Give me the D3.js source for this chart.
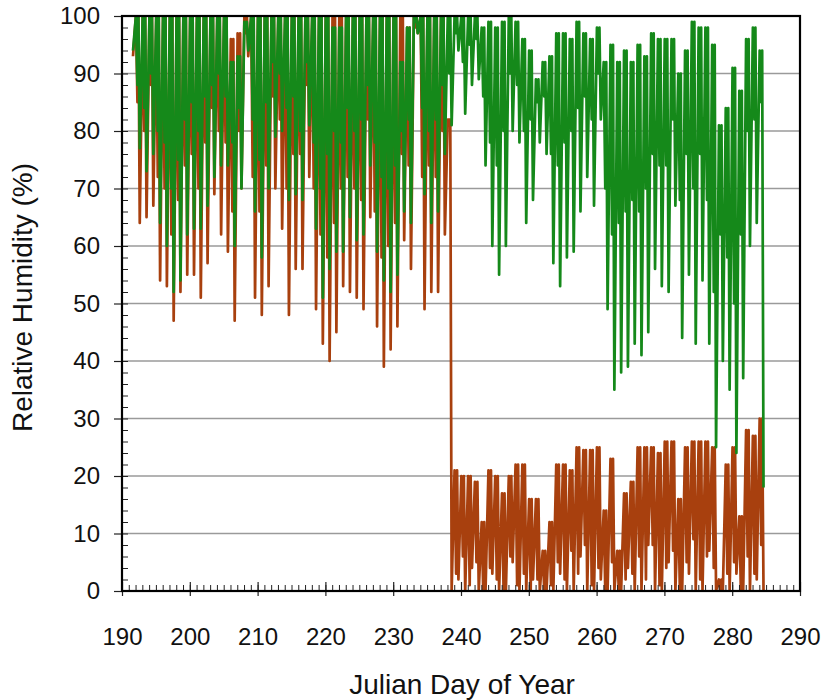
<!DOCTYPE html>
<html>
<head>
<meta charset="utf-8">
<script src="https://cdn.jsdelivr.net/npm/d3@7"></script>
<style>
  body { margin: 0; background: #fff; }
  text { font-family: "Liberation Sans", Arial, sans-serif; fill: #111; }
</style>
</head>
<body>
<div id="chart"></div>
<script>
// julian days, one entry per day: night high, a morning dip, high again, afternoon low
const days = d3.range(191, 285);

const greenHigh = [null,
  100, 100, 100, 100, 100, 100, 100, 100, 100, 100, 100, 100, 100, 100,
  92, 93, 99, 100, 100, 100, 100, 100, 100, 100, 100, 100, 100, 100, 100,
  98, 98, 100, 100, 100, 100, 100, 100, 100, 100, 92, 98, 100, 100, 100,
  100, 100, 100, 100, 100, 100, 100, 98, 99, 98, 99, 100, 99, 96, 94,
  89, 92, 93, 97, 97, 96, 99, 97, 96, 98, 92, 95, 92, 94, 92,
  95, 93, 97, 96, 96, 96, 90, 94, 99, 98, 98, 95, 81, 84, 91,
  87, 96, 98, 94];

const greenDip = [null,
  88, 84, 90, 80, 78, 70, 75, 82, 85, 80, 86, 88, 90, 86,
  78, 84, 98, 82, 75, 85, 92, 90, 84, 86, 80, 92, 78, 70, 76,
  80, 78, 84, 80, 82, 88, 78, 72, 70, 74, 80, 82, 99, 84, 80,
  82, 88, 90, 97, 92, 95, 96, 86, 78, 74, 80, 90, 88, 80, 82,
  85, 86, 76, 74, 78, 80, 84, 86, 82, 90, 70, 62, 64, 66, 68,
  66, 70, 76, 74, 74, 82, 68, 76, 70, 76, 68, 52, 62, 58, 50,
  62, 80, 82, 85];

const greenLow = [94,
  77, 73, 76, 64, 60, 52, 54, 62, 63, 63, 67, 72, 74, 74,
  60, 70, 94, 66, 58, 70, 79, 80, 68, 69, 68, 81, 63, 51, 56,
  59, 59, 65, 61, 62, 74, 59, 54, 52, 55, 66, 64, 97, 69, 64,
  66, 76, 81, 94, 83, 88, 89, 74, 60, 55, 60, 80, 78, 64, 68,
  78, 76, 57, 53, 58, 59, 66, 72, 67, 82, 49, 35, 38, 39, 43,
  41, 45, 56, 53, 52, 67, 44, 55, 43, 54, 43, 25, 40, 35, 24,
  37, 60, 64, 18];

const brownHigh = [null,
  100, 100, 100, 100, 100, 100, 100, 100, 100, 100, 100, 100, 100, 100,
  96, 97, 100, 100, 100, 100, 100, 100, 100, 100, 100, 100, 100, 100, 100,
  100, 100, 100, 100, 100, 100, 100, 100, 100, 100, 100, 98, 100, 100, 100,
  100, 100, 82, 21, 20, 20, 19, 12, 21, 20, 17, 20, 22, 22, 16,
  16, 7, 12, 22, 22, 21, 25, 24.5, 24.5, 25, 14, 23, 7, 17, 19,
  25, 25, 25, 24, 26, 26, 16, 25, 26, 26, 26, 25, 2, 22, 25,
  13, 28, 27, 30];

const brownDip = [null,
  85, 80, 88, 72, 70, 62, 68, 74, 76, 70, 78, 84, 80, 78,
  66, 80, 97, 72, 66, 74, 86, 82, 70, 76, 76, 88, 70, 62, 58,
  64, 70, 72, 70, 68, 82, 66, 58, 60, 64, 76, 74, 98, 72, 74,
  72, 80, 82, 3, 6, 1, 5, 0, 4, 2, 0, 6, 1, 3, 0,
  2, 0, 1, 5, 2, 7, 3, 8, 1, 4, 0, 5, 0, 2, 3,
  6, 2, 8, 1, 4, 7, 0, 5, 9, 2, 6, 4, 0, 3, 5,
  0, 6, 3, 8];

const brownLow = [93,
  64, 65, 67, 54, 53, 47, 52, 55, 55, 51, 57, 69, 62, 59,
  47, 70, 93, 51, 48, 53, 70, 63, 48, 56, 56, 72, 49, 43, 40,
  45, 53, 52, 51, 49, 65, 46, 39, 42, 46, 61, 56, 97, 49, 52,
  52, 62, 0, 2, 0, 4, 0, 0, 3, 0, 0, 5, 0, 0, 2,
  0, 0, 0, 3, 0, 0, 6, 0, 0, 2, 0, 0, 0, 4, 0,
  0, 8, 0, 0, 5, 0, 0, 3, 0, 0, 7, 0, 0, 0, 3,
  0, 0, 2, 0];

const xTicks = [190, 200, 210, 220, 230, 240, 250, 260, 270, 280, 290];
const yTicks = [0, 10, 20, 30, 40, 50, 60, 70, 80, 90, 100];

function toPoints(high, dip, low) {
  const pts = [];
  days.forEach((d, i) => {
    if (high[i] != null) pts.push({ t: d + 0.05, v: high[i] });
    if (dip[i] != null) pts.push({ t: d + 0.28, v: dip[i] });
    if (high[i] != null) pts.push({ t: d + 0.42, v: high[i] });
    pts.push({ t: d + 0.62, v: low[i] });
  });
  return pts;
}

const greenData = toPoints(greenHigh, greenDip, greenLow);
const brownData = toPoints(brownHigh, brownDip, brownLow);

const margin = { top: 16, right: 29, bottom: 109, left: 122 };
const width = 829 - margin.left - margin.right;
const height = 700 - margin.top - margin.bottom;

const x = d3.scaleLinear().domain([190, 290]).range([0, width]);
const y = d3.scaleLinear().domain([0, 100]).range([height, 0]);

const svg = d3.select("#chart")
  .append("svg")
  .attr("width", 829)
  .attr("height", 700)
  .append("g")
  .attr("transform", `translate(${margin.left},${margin.top})`);

svg.append("defs")
  .append("clipPath")
  .attr("id", "plot-clip")
  .append("rect")
  .attr("width", width)
  .attr("height", height);

// grid
svg.append("g")
  .selectAll("line")
  .data(yTicks.filter(d => d > 0 && d < 100))
  .join("line")
  .attr("x1", 0)
  .attr("x2", width)
  .attr("y1", d => y(d))
  .attr("y2", d => y(d))
  .attr("stroke", "#9a9a9a")
  .attr("stroke-width", 1.3);

const line = d3.line()
  .x(d => x(d.t))
  .y(d => y(d.v));

const plot = svg.append("g").attr("clip-path", "url(#plot-clip)");

plot.append("path")
  .datum(brownData)
  .attr("fill", "none")
  .attr("stroke", "#a8400e")
  .attr("stroke-width", 2.7)
  .attr("stroke-linejoin", "round")
  .attr("d", line);

plot.append("path")
  .datum(greenData)
  .attr("fill", "none")
  .attr("stroke", "#15891a")
  .attr("stroke-width", 2.7)
  .attr("stroke-linejoin", "round")
  .attr("d", line);

// minor ticks inside the frame
svg.append("g")
  .call(d3.axisRight(y).tickValues(d3.range(0, 101, 2)).tickSize(6).tickFormat(""))
  .call(g => g.select(".domain").remove())
  .selectAll("line").attr("stroke", "#222").attr("stroke-width", 1);

svg.append("g")
  .attr("transform", `translate(0,${height})`)
  .call(d3.axisTop(x).tickValues(d3.range(190, 291, 1)).tickSize(6).tickFormat(""))
  .call(g => g.select(".domain").remove())
  .selectAll("line").attr("stroke", "#222").attr("stroke-width", 1);

// major x ticks poke inside too
svg.append("g")
  .attr("transform", `translate(0,${height})`)
  .call(d3.axisTop(x).tickValues(xTicks).tickSize(9).tickFormat(""))
  .call(g => g.select(".domain").remove())
  .selectAll("line").attr("stroke", "#222").attr("stroke-width", 1.2);

const yAxis = svg.append("g")
  .call(d3.axisLeft(y).tickValues(yTicks).tickSize(8).tickPadding(14));
yAxis.select(".domain").remove();
yAxis.selectAll(".tick line").attr("stroke", "#222").attr("stroke-width", 1.2);
yAxis.selectAll(".tick text")
  .style("font-size", "24px")
  .attr("fill", "#111");

const xAxis = svg.append("g")
  .attr("transform", `translate(0,${height})`)
  .call(d3.axisBottom(x).tickValues(xTicks).tickSize(5).tickPadding(32));
xAxis.select(".domain").remove();
xAxis.selectAll(".tick line").attr("stroke", "#222").attr("stroke-width", 1.2);
xAxis.selectAll(".tick text")
  .style("font-size", "24px")
  .attr("fill", "#111");

// frame
svg.append("rect")
  .attr("width", width)
  .attr("height", height)
  .attr("fill", "none")
  .attr("stroke", "#000")
  .attr("stroke-width", 2.2);

svg.append("text")
  .attr("x", width / 2 + 1)
  .attr("y", height + 103)
  .attr("text-anchor", "middle")
  .style("font-size", "28px")
  .text("Julian Day of Year");

svg.append("text")
  .attr("transform", `translate(${-90},${height / 2 - 6}) rotate(-90)`)
  .attr("text-anchor", "middle")
  .style("font-size", "28px")
  .text("Relative Humidity (%)");
</script>
</body>
</html>
